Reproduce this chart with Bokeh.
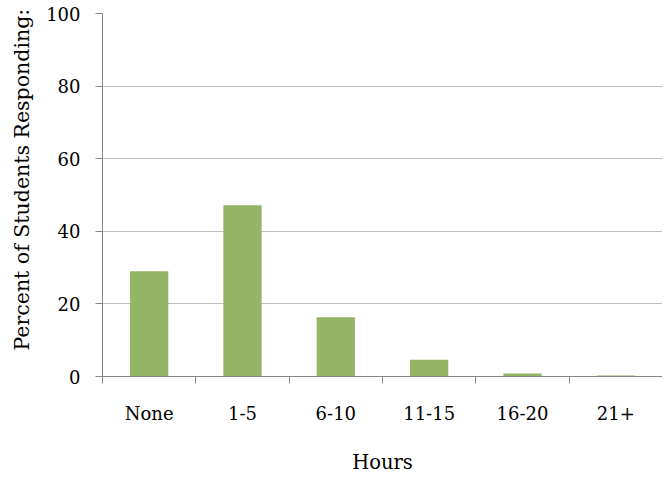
from bokeh.plotting import figure
from bokeh.models import Range1d, FixedTicker, Title
from bokeh.embed import file_html
from bokeh.resources import INLINE

categories = ["None", "1-5", "6-10", "11-15", "16-20", "21+"]
percents = [29.0, 47.2, 16.3, 4.6, 0.8, 0.3]
y_ticks = [0, 20, 40, 60, 80, 100]

FONT = "DejaVu Serif"
TICK_FS = "18px"

W, H = 662, 476

xs = [i + 0.5 for i in range(len(categories))]
bounds = list(range(len(categories) + 1))

p = figure(width=W, height=H, output_backend="svg", toolbar_location=None,
           x_range=Range1d(0, len(categories)), y_range=Range1d(0, 100),
           min_border_left=101, min_border_right=0, min_border_top=13, min_border_bottom=0)
p.outline_line_color = None
p.background_fill_color = "white"

p.vbar(x=xs, top=percents, width=0.41, bottom=0, color="#94B466", line_color=None)

# x axis
xa = p.xaxis[0]
xa.ticker = FixedTicker(ticks=xs, minor_ticks=bounds)
xa.major_label_overrides = {x: c for x, c in zip(xs, categories)}
xa.major_tick_line_color = None
xa.major_tick_out = 0
xa.major_tick_in = 0
xa.minor_tick_out = 7
xa.minor_tick_in = 0
xa.minor_tick_line_color = "#868686"
xa.axis_line_color = "#868686"
xa.major_label_standoff = 19
xa.major_label_text_font = FONT
xa.major_label_text_font_size = TICK_FS
xa.major_label_text_color = "black"
xa.axis_label = "Hours"
xa.axis_label_text_font = FONT
xa.axis_label_text_font_size = "19.5px"
xa.axis_label_text_font_style = "normal"
xa.axis_label_text_color = "black"
xa.axis_label_standoff = 24

# y axis
ya = p.yaxis[0]
ya.ticker = FixedTicker(ticks=y_ticks)
ya.minor_tick_line_color = None
ya.major_tick_out = 7
ya.major_tick_in = 0
ya.major_tick_line_color = "#868686"
ya.axis_line_color = "#868686"
ya.major_label_standoff = 15
ya.major_label_text_font = FONT
ya.major_label_text_font_size = TICK_FS
ya.major_label_text_color = "black"

ylab = Title(text="Percent of Students Responding:", align="left", offset=26,
             vertical_align="middle", standoff=17,
             text_font=FONT, text_font_size="20.5px", text_font_style="normal",
             text_color="black")
p.add_layout(ylab, "left")

p.xgrid.grid_line_color = None
p.ygrid.grid_line_color = "#BFBFBF"
p.ygrid.grid_line_width = 1

open("out.html", "w").write(file_html(p, INLINE))
